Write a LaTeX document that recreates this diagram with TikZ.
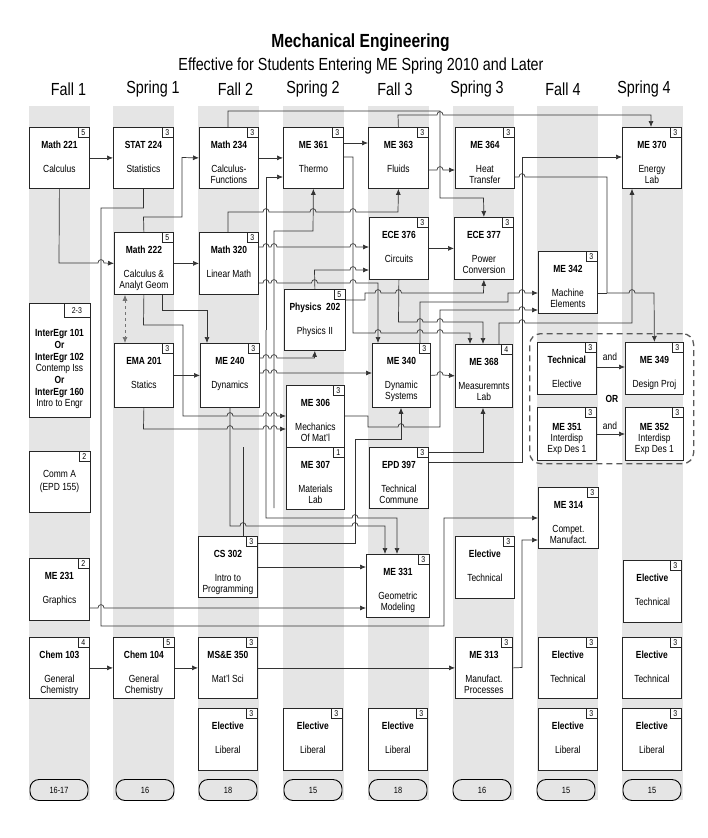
\documentclass[tikz,border=0pt]{standalone}
\usepackage{fontspec}
\setmainfont{Liberation Sans}[FakeStretch=0.82]
\usetikzlibrary{arrows.meta}

% line hop over a vertical line at x=#1 on a horizontal run at y=#2
\newcommand\hp[2]{-- ({#1-3},#2) .. controls ({#1-3},{#2-4.5}) and ({#1+3},{#2-4.5}) .. ({#1+3},#2)}

% course box: name, x, y (top left), width, height, credits, title, lines
\newcommand\course[8]{%
  \node[box,minimum width=#4,minimum height=#5,anchor=north west] (#1) at (#2,#3) {};
  \node[cred,anchor=north east] (#1c) at ([xshift=-0.6pt,yshift=-0.4pt]#1.north east) {#6};
  \node[ttl,anchor=base] (#1t) at ([yshift=-21.6pt]#1.north) {#7};
  \foreach \sline [count=\i] in {#8}
    \node[sub,anchor=base] (#1s\i) at ([yshift={-45.6-11*(\i-1)}]#1.north) {\sline};
}
% same, with the lines set directly under the title
\newcommand\coursetight[8]{%
  \node[box,minimum width=#4,minimum height=#5,anchor=north west] (#1) at (#2,#3) {};
  \node[cred,anchor=north east] (#1c) at ([xshift=-0.6pt,yshift=-0.4pt]#1.north east) {#6};
  \node[ttl,anchor=base] (#1t) at ([yshift=-23.6pt]#1.north) {#7};
  \foreach \sline [count=\i] in {#8}
    \node[sub,anchor=base] (#1s\i) at ([yshift={-34.6-10.5*(\i-1)}]#1.north) {\sline};
}

\begin{document}
\begin{tikzpicture}[x=1pt,y=-1pt,
  box/.style={draw=black!85,fill=white,line width=0.8pt,inner sep=0pt},
  cred/.style={draw=black!85,fill=white,line width=0.6pt,inner sep=0pt,
    minimum width=11pt,minimum height=10pt,font=\fontsize{8.5}{9}\selectfont},
  ttl/.style={font=\fontsize{10.3}{11}\selectfont\bfseries,inner sep=0pt},
  sub/.style={font=\fontsize{10.3}{11}\selectfont,inner sep=0pt},
  link/.style={draw=black!80,line width=0.7pt},
  arr/.style={link,-{Latex[length=6pt,width=5pt]}},
  pill/.style={draw=black,line width=0.9pt,rounded corners=9pt,fill=black!10,
    minimum width=58pt,minimum height=21pt,inner sep=0pt,font=\fontsize{9}{10}\selectfont},
  grp/.style={draw=black!65,line width=1.3pt,dash pattern=on 6pt off 4pt,
    rounded corners=11pt,inner sep=0pt},
  head/.style={font=\fontsize{17.5}{19}\selectfont,inner sep=0pt},
]
\useasboundingbox (0,0) rectangle (708,838);
\fill[white] (0,0) rectangle (708,838);

% semester bands
\foreach \x in {29,113,198,283,368,453,537,622}
  \fill[black!10] (\x,106) rectangle ++(61,694);

% headings
\node[font=\fontsize{19}{21}\selectfont\bfseries,inner sep=0pt] (title) at (360.5,43) {Mechanical Engineering};
\node[head] (subtitle) at (361,66) {Effective for Students Entering ME Spring 2010 and Later};
\node[head] (h1) at (68.5,89) {Fall 1};
\node[head] (h2) at (153,89) {Spring 1};
\node[head] (h3) at (235.5,89) {Fall 2};
\node[head] (h4) at (313,89) {Spring 2};
\node[head] (h5) at (395,89) {Fall 3};
\node[head] (h6) at (477,89) {Spring 3};
\node[head] (h7) at (563,89) {Fall 4};
\node[head] (h8) at (644,89) {Spring 4};

% design group frame
\node[grp,minimum width=164,minimum height=130,anchor=north west] (grp) at (529,333) {};

% courses
\course{m221}{29}{127}{60}{61}{5}{Math 221}{Calculus}
\course{s224}{113}{127}{60}{61}{3}{STAT 224}{Statistics}
\course{m234}{199}{127}{59}{61}{3}{Math 234}{Calculus-,Functions}
\course{me361}{283}{127}{60}{61}{3}{ME 361}{Thermo}
\course{me363}{368}{127}{60}{61}{3}{ME 363}{Fluids}
\course{me364}{455}{127}{59}{61}{3}{ME 364}{Heat,Transfer}
\course{me370}{622}{127}{59}{61}{3}{ME 370}{Energy,Lab}
\course{m222}{114}{232}{59}{62}{5}{Math 222}{Calculus \&,Analyt Geom}
\course{m320}{199}{232}{59}{62}{3}{Math 320}{Linear Math}
\course{ece376}{369}{217}{59}{62}{3}{ECE 376}{Circuits}
\course{ece377}{454}{217}{59}{62}{3}{ECE 377}{Power,Conversion}
\course{me342}{538}{251}{59}{62}{3}{ME 342}{Machine,Elements}
\course{phy202}{284}{289}{61}{61}{5}{Physics\ \ 202}{Physics II}
\course{ema201}{114}{343}{59}{64}{3}{EMA 201}{Statics}
\course{me240}{200}{343}{59}{64}{3}{ME 240}{Dynamics}
\course{me340}{372}{343}{58}{64}{3}{ME 340}{Dynamic,Systems}
\course{me368}{455}{344}{57}{63}{4}{ME 368}{Measuremnts,Lab}
\course{tech}{537}{342}{59}{52}{3}{Technical}{Elective}
\course{me349}{625}{342}{58}{52}{3}{ME 349}{Design Proj}
\coursetight{me351}{537}{407}{59}{53}{3}{ME 351}{Interdisp,Exp Des 1}
\coursetight{me352}{625}{407}{58}{53}{3}{ME 352}{Interdisp,Exp Des 1}
\course{me306}{286}{385}{58}{62}{3}{ME 306}{Mechanics,Of Mat'l}
\course{me307}{286}{447}{58}{62}{1}{ME 307}{Materials,Lab}
\course{epd397}{369}{447}{59}{61}{3}{EPD 397}{Technical,Commune}
\course{me314}{538}{487}{60}{61}{3}{ME 314}{Compet.,Manufact.}
\course{cs302}{198}{536}{59}{61}{3}{CS 302}{Intro to,Programming}
\course{me331}{366}{554}{63}{63}{3}{ME 331}{Geometric,Modeling}
\course{et6}{455}{536}{59}{62}{3}{Elective}{Technical}
\course{me231}{29}{558}{60}{62}{2}{ME 231}{Graphics}
\course{et8a}{623}{560}{58}{62}{3}{Elective}{Technical}
\course{chem103}{29}{637}{60}{61}{4}{Chem 103}{General,Chemistry}
\course{chem104}{113}{637}{61}{61}{5}{Chem 104}{General,Chemistry}
\course{mse350}{198}{637}{59}{61}{3}{MS\&E 350}{Mat'l Sci}
\course{me313}{455}{637}{57}{61}{3}{ME 313}{Manufact.,Processes}
\course{et7}{538}{637}{59}{61}{3}{Elective}{Technical}
\course{et8b}{622}{637}{59}{61}{3}{Elective}{Technical}
\course{lib3}{198}{708}{59}{62}{3}{Elective}{Liberal}
\course{lib4}{283}{708}{59}{62}{3}{Elective}{Liberal}
\course{lib5}{368}{708}{59}{62}{3}{Elective}{Liberal}
\course{lib7}{538}{708}{59}{62}{3}{Elective}{Liberal}
\course{lib8}{622}{708}{59}{62}{3}{Elective}{Liberal}

% introductory engineering choice
\node[box,minimum width=61,minimum height=114,anchor=north west] (ie) at (29,303) {};
\node[cred,minimum width=26,minimum height=14,anchor=north east] (iec) at ([xshift=-0.6pt,yshift=-0.4pt]ie.north east) {2-3};
\node[ttl,anchor=base] (ie1) at (59.5,336.6) {InterEgr 101};
\node[ttl,anchor=base] (ie2) at (59.5,348.3) {Or};
\node[ttl,anchor=base] (ie3) at (59.5,360.0) {InterEgr 102};
\node[sub,anchor=base] (ie4) at (59.5,371.7) {Contemp Iss};
\node[ttl,anchor=base] (ie5) at (59.5,383.4) {Or};
\node[ttl,anchor=base] (ie6) at (59.5,395.1) {InterEgr 160};
\node[sub,anchor=base] (ie7) at (59.5,406.8) {Intro to Engr};

% communication
\node[box,minimum width=61,minimum height=61,anchor=north west] (comma) at (29,451) {};
\node[cred,anchor=north east] (commac) at ([xshift=-0.6pt,yshift=-0.4pt]comma.north east) {2};
\node[sub,anchor=base] (comma1) at (59.5,477.6) {Comm A};
\node[sub,anchor=base] (comma2) at (59.5,490.6) {(EPD 155)};

% credit totals
\node[pill] (p1) at (59,790) {16-17};
\node[pill] (p2) at (145,790) {16};
\node[pill] (p3) at (228,790) {18};
\node[pill] (p4) at (313,790) {15};
\node[pill] (p5) at (398,790) {18};
\node[pill] (p6) at (482,790) {16};
\node[pill] (p7) at (566,790) {15};
\node[pill] (p8) at (652,790) {15};

% ---- prerequisite connectors ----
\draw[arr] (m221.east) -- (s224.west);
\draw[arr] (m221.south) -- (59,263) \hp{101}{263} -- (m222.west);
\draw[arr] (s224.south) -- (143.5,208) -- (101,208) -- (101,626) -- (444,626) -- (444,518) -- (me314.west |- 0,518);
\draw[arr] (me231.east |- 0,608) \hp{101}{608} -- (me331.west |- 0,608);
\draw[arr] (chem103.east) -- (chem104.west);
\draw[arr] (chem104.east) -- (mse350.west);
\draw[arr] (mse350.east) -- (me313.west);
\draw[arr] (me313.east) -- (522,667.5) -- (522,540) -- (me314.west |- 0,540);

\draw[arr] (m222.east) -- (m320.west);
\draw[arr] (m222.north) -- (143.5,217) -- (182,217) -- (182,157.5) -- (m234.west);
\draw[link,draw=black!55,dashed,{Latex[length=6pt,width=5pt]}-{Latex[length=6pt,width=5pt]}] (m222.south -| 125,0) -- (ema201.north -| 125,0);
\draw[arr] (m222.south -| 162,0) -- (162,310) -- (207,310) -- (me240.north -| 207,0);
\draw[arr] (m222.south) -- (143.5,325) -- (183,325) -- (183,416) \hp{230}{416} \hp{266}{416} \hp{274}{416} -- (me306.west |- 0,416);
\draw[arr] (ema201.south) -- (143.5,429) \hp{230}{429} \hp{266}{429} \hp{274}{429} -- (me306.west |- 0,429);
\draw[arr] (ema201.east) -- (me240.west);

\draw[arr] (me240.east |- 0,358) \hp{266}{358} \hp{274}{358} -- (314.5,358) -- (phy202.south);
\draw[arr] (me240.east |- 0,373) \hp{266}{373} \hp{274}{373} -- (me340.west |- 0,373);
\draw[arr] (me240.south -| 230,0) -- (230,526) \hp{243}{526} \hp{355}{526} -- (385,526) -- (me331.north -| 385,0);
\coordinate (j266) at (266,330);
\draw[arr] (j266) -- (266,518) \hp{355}{518} -- (397,518) -- (me331.north -| 397,0);
\draw[arr] (j266) -- (266,177) -- (me361.west |- 0,177);
\coordinate (j274) at (274,508);
\draw[arr] (j274) -- (274,231) -- (313,231) -- (me361.south);
\coordinate (j243) at (243,447);
\draw[link] (j243) -- (cs302.north -| 243,0);
\draw[arr] (cs302.east |- 0,543) -- (355,543) -- (355,439) -- (401,439) -- (me340.south -| 401,0);
\draw[arr] (cs302.east |- 0,567) -- (me331.west |- 0,567);

\draw[arr] (m234.east) -- (me361.west);
\draw[arr] (me361.east |- 0,143) -- (me363.west |- 0,143);
\draw[arr] (me363.east |- 0,170) \hp{440}{170} -- (me364.west |- 0,170);
\draw[arr] (m234.north -| 228,0) -- (228,111) -- (440,111) -- (440,198) -- (483.5,198) -- (ece377.north);
\draw[arr] (me363.north) -- (398,115) \hp{440}{115} -- (651,115) -- (me370.north -| 651,0);
\draw[arr] (m320.north -| 228,0) -- (228,212) \hp{266}{212} \hp{313}{212} \hp{353}{212} -- (398,212) -- (me363.south);
\draw[arr] (m320.east |- 0,247) \hp{266}{247} \hp{274}{247} \hp{353}{247} -- (ece376.west |- 0,247);
\draw[arr] (phy202.north) -- (314.5,270) \hp{353}{270} -- (ece376.west |- 0,270);
\draw[arr] (m320.east |- 0,283) \hp{266}{283} \hp{274}{283} \hp{314.5}{283} \hp{353}{283} -- (378,283) -- (me340.north -| 378,0);
\draw[arr] (ece376.east) -- (ece377.west);
\draw[arr] (phy202.east |- 0,300) -- (365,300) -- (365,293) \hp{378}{293} \hp{398.5}{293} -- (483.5,293) -- (ece377.south);
\draw[arr] (me361.east |- 0,157) -- (353,157) -- (353,333) \hp{378}{333} \hp{420}{333} \hp{440}{333} -- (470,333) -- (me368.north -| 470,0);
\draw[arr] (ece376.south) -- (398.5,322) \hp{420}{322} \hp{440}{322} -- (483,322) -- (me368.north -| 483,0);
\draw[arr] (me340.north -| 420,0) -- (420,302) -- (508,302) -- (508,293) \hp{522}{293} -- (me342.west |- 0,293);
\draw[arr] (me306.east |- 0,416) -- (368,416) -- (368,427) \hp{401}{427} -- (440,427) -- (440,310) \hp{522}{310} -- (me342.west |- 0,310);
\draw[arr] (me340.east) \hp{440}{375} -- (me368.west);
\draw[arr] (epd397.east |- 0,452) -- (483,452) -- (me368.south -| 483,0);
\draw[arr] (epd397.east |- 0,462) -- (522,462) -- (522,157) -- (me370.west |- 0,157);
\draw[arr] (me368.north -| 499,0) -- (499,323) \hp{522}{323} -- (632,323) -- (me370.south -| 632,0);
\draw[arr] (me364.east |- 0,177) \hp{522}{177} -- (607,177) -- (607,293) \hp{632}{293} -- (654,293) -- (me349.north);
\draw[link] (me342.east |- 0,293) -- (607,293);

\draw[arr] (tech.east |- 0,367) -- (me349.west |- 0,367);
\draw[arr] (me351.east |- 0,434) -- (me352.west |- 0,434);
\node[sub] (and1) at (610,357) {and};
\node[sub] (and2) at (610,426) {and};
\node[ttl] (orlbl) at (612,399) {OR};
\end{tikzpicture}
\end{document}
